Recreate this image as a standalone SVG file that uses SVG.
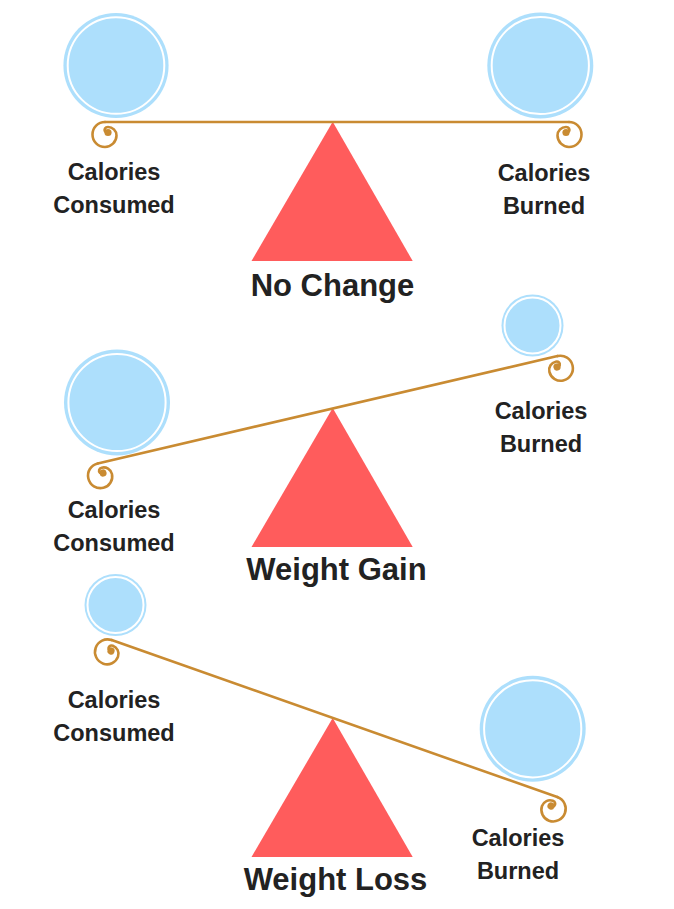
<svg xmlns="http://www.w3.org/2000/svg" width="674" height="909" viewBox="0 0 674 909">
<style>
.bg{fill:#ffffff}
.disc{fill:#ADDFFC}
.ring{fill:none;stroke:#ffffff;stroke-width:2}
.beam{fill:none;stroke:#C98B32;stroke-width:2.6;stroke-linecap:round}
.dot{fill:#C98B32}
.tri{fill:#FF5C5C}
.lbl{font-family:"Liberation Sans",Arial,sans-serif;font-weight:bold;font-size:23.5px;fill:#222222;text-anchor:middle}
.ttl{font-family:"Liberation Sans",Arial,sans-serif;font-weight:bold;font-size:31px;fill:#222222;text-anchor:middle}
</style>
<defs>
<g id="curl">
<path class="beam" d="M -3,-10.5 C -10,-10.5 -15.5,-5 -15.5,2 C -15.5,9 -10,14.5 -3,14.5 C 3,14.5 8.5,9.5 8.5,3 C 8.5,-2 4.5,-5.5 0,-5.5 C -3,-5.5 -4,-3 -3,-1"/>
<circle class="dot" cx="0" cy="0" r="3.6"/>
</g>
</defs>
<rect class="bg" x="0" y="0" width="674" height="909"/>

<!-- Scene 1: No Change -->
<g id="s1-fulcrum"><polygon class="tri" points="332.7,121.7 251.5,261 412.7,261"/></g>
<g id="connectors-s1">
<line class="beam" x1="105" y1="122" x2="569" y2="122"/>
<use href="#curl" transform="translate(108,132.5)"/>
<use href="#curl" transform="translate(566,132.5) scale(-1,1)"/>
</g>
<g id="s1-consumed"><circle class="disc" cx="116" cy="65.5" r="52.6"/><circle class="ring" cx="116" cy="65.5" r="48.3"/></g>
<g id="s1-burned"><circle class="disc" cx="540.3" cy="65.5" r="53"/><circle class="ring" cx="540.3" cy="65.5" r="48.6"/></g>
<g id="s1-labels">
<text class="lbl" x="114" y="180">Calories</text>
<text class="lbl" x="114" y="213.3">Consumed</text>
<text class="lbl" x="544" y="181">Calories</text>
<text class="lbl" x="544" y="214.3">Burned</text>
<text class="ttl" x="332.5" y="296">No Change</text>
</g>

<!-- Scene 2: Weight Gain -->
<g id="s2-fulcrum"><polygon class="tri" points="332.7,408 251.5,547 412.7,547"/></g>
<g id="connectors-s2">
<line class="beam" x1="97.7" y1="463.4" x2="557.5" y2="356.1"/>
<use href="#curl" transform="translate(103,473) rotate(-13.14)"/>
<use href="#curl" transform="translate(557,367) rotate(-13.14) scale(-1,1)"/>
</g>
<g id="s2-consumed"><circle class="disc" cx="117" cy="402.5" r="53"/><circle class="ring" cx="117" cy="402.5" r="48.6"/></g>
<g id="s2-burned"><circle class="disc" cx="532.5" cy="325.5" r="31"/><circle class="ring" cx="532.5" cy="325.5" r="28"/></g>
<g id="s2-labels">
<text class="lbl" x="541" y="419">Calories</text>
<text class="lbl" x="541" y="452.3">Burned</text>
<text class="lbl" x="114" y="518">Calories</text>
<text class="lbl" x="114" y="551.3">Consumed</text>
<text class="ttl" x="336.5" y="580">Weight Gain</text>
</g>

<!-- Scene 3: Weight Loss -->
<g id="s3-fulcrum"><polygon class="tri" points="332.7,718 251.5,857 412.7,857"/></g>
<g id="connectors-s3">
<line class="beam" x1="111.7" y1="640.1" x2="557.3" y2="797.1"/>
<use href="#curl" transform="translate(111,651) rotate(19.4)"/>
<use href="#curl" transform="translate(551,806) rotate(19.4) scale(-1,1)"/>
</g>
<g id="s3-consumed"><circle class="disc" cx="115.5" cy="605" r="31"/><circle class="ring" cx="115.5" cy="605" r="28"/></g>
<g id="s3-burned"><circle class="disc" cx="532.7" cy="728.8" r="53"/><circle class="ring" cx="532.7" cy="728.8" r="48.6"/></g>
<g id="s3-labels">
<text class="lbl" x="114" y="708">Calories</text>
<text class="lbl" x="114" y="741.3">Consumed</text>
<text class="lbl" x="518" y="846">Calories</text>
<text class="lbl" x="518" y="879.3">Burned</text>
<text class="ttl" x="335.5" y="890">Weight Loss</text>
</g>
</svg>
